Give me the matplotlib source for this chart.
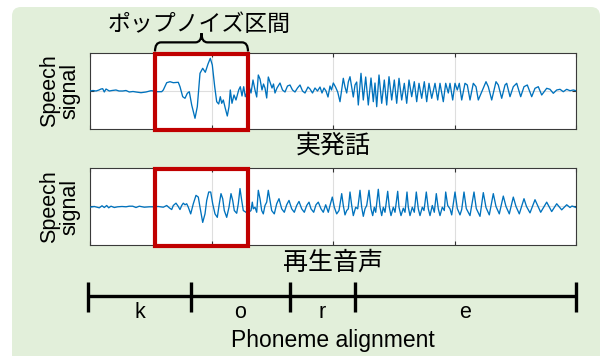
import matplotlib
matplotlib.use("Agg")
import matplotlib.pyplot as plt
import numpy as np
from matplotlib.patches import FancyBboxPatch, Rectangle, PathPatch
from matplotlib.path import Path
from matplotlib.transforms import IdentityTransform

plt.rcParams['font.family'] = ['Liberation Sans', 'Noto Sans CJK JP', 'DejaVu Sans']
JP = ['Noto Sans CJK JP', 'DejaVu Sans']

# ---- data -------------------------------------------------------------
duration_ms = 486

# (time [ms], amplitude) samples of the real utterance
real_speech = [
    (0, 0), (3, 0.5), (6, 0), (9, 1), (11, 2), (12.7, 2.3), (14.3, -1), (16, 2), (19.3, 0), (22, 0.5),
    (26, 1), (29, 0), (32.7, 0), (36, 0.5), (39.3, -1), (43, -0.5), (46, -1), (51, -1.7), (56, -1),
    (61, 0.3), (64, 0), (67.3, -0.7), (71.7, -0.7),
    (73.3, 1), (76.7, 8.3), (80, 9.3), (83.3, 8.3), (88.3, 8.7), (90, 4.3), (92.7, -5.7), (95, -7.3),
    (97.3, -2.3), (99.3, -0.7), (101.7, -14), (105, -27.3), (107.3, -15.7), (110, 17.7), (112.7, 22.7),
    (115.3, 18.7), (118, 27), (120.3, 32.7), (122.3, 26), (124.7, 4.3), (126.7, -10.7), (128.7, -13),
    (130.3, -5.7), (131.7, -12.3), (133.3, -9), (135.3, -17.3), (137.3, -25), (139, -15.7), (140.3, 1),
    (142, -12.3), (144, -4), (146, -9), (148.7, 1), (150.3, 4.3), (152, -5), (153.7, 4.3), (155.3, -5.7),
    (156.7, -2),
    (159, 5), (161, -2), (163, 11), (165, 1), (166.7, -6), (168.3, 16), (170, 12), (172, 1), (173.5, 7),
    (175, 3), (176.7, -7), (178.3, 14), (180, 9), (182, 3), (183.5, 7), (185, -2), (187, 3), (190, 8),
    (192.5, 1), (195, -1), (197.5, 5), (200, 6), (202.5, 1), (205, -1), (207.5, 3), (210, 6), (212.5, 0),
    (215, -2), (218, 4), (220, 2), (222.5, -2), (225, 3), (227.5, 0), (230, 4), (232, -2), (234, 3),
    (236, 0), (238, -6), (240, 5), (241.5, 1),
    (243.3, 8), (245.5, 4), (247.7, -1), (250, -10.7), (253.3, 12.7), (255, 4), (256.7, -2), (258.3, 9),
    (260, 14.3), (263.3, -6), (265, 6), (266.7, 9), (268.3, -14), (271, 17.7), (273.3, -9), (275.7, 14),
    (278.3, -14), (281, 13), (283.3, -10.7), (285, 8), (286.7, -15.7), (289, 16), (291.7, -12.3),
    (294.3, 11), (296.7, -14), (299, 14.3), (301.7, -9), (304.3, 11), (306.7, -12.3), (309, 12.7),
    (311.7, -9), (314.3, 7.7), (316.7, -12.3), (319, 11), (321.7, -5.7), (324.3, 9.3), (326.7, -10.7),
    (329, 7.7), (331.7, -7.3), (334.3, 9.3), (336.7, -10.7), (339, 7.7), (341.7, -7.3), (345, 7.7),
    (347.7, -9), (350, 7.7), (353.3, -10.7), (355.7, 7.7), (358.3, -2),
    (360, 7.7), (362.7, -9), (365, 7.7), (367.3, 1), (369.3, 7.7), (371.7, -9), (375, 7.7), (377.3, 6),
    (380, -9), (383.3, 7.7), (386, 4.3), (388.3, -9), (393, 2), (396, 9.3), (398.3, 4.3), (401.7, -9),
    (406, 9.3), (408.3, 6), (411.7, -7.3), (415, 6), (416.7, 7.7), (420, -5.7), (423.3, 4.3),
    (426.7, 7.7), (430.7, -5.7), (434, 4.3), (437.3, 6), (441.7, -5.7), (445, 2.7), (448.3, 4.3),
    (451.7, -4), (456.7, 2.7), (460, 1.7), (463.3, -2.3), (466.7, 1), (470, 1.7), (473.3, -0.7),
    (476.7, 1.7), (480, 0.3), (483.3, 1), (486, 0.3),
]

# (time [ms], amplitude) samples of the replayed utterance
replay_speech = [
    (0, -0.7), (4.3, 0), (9.3, -1.3), (12, 0.7), (14.3, -1), (16.7, 1), (18.7, -1.3), (21, 0.3),
    (24.3, -1), (27.7, -0.3), (32, 0), (36, -0.3), (39.3, 0.3), (42.7, 0.3), (46, -1), (49.3, 0.3),
    (54.3, -0.7), (59.3, -0.3), (62.7, -0.3),
    (68.3, 0), (73.3, -0.7), (76.7, 1), (79.3, -1.3), (81.7, -3), (83.3, 1), (86, 3.3), (88.3, 0),
    (90, -3), (91.7, 1), (93.3, 3.3), (95, 1.7), (96.7, 2.7), (98.3, -0.7), (100.7, -7.3), (103.3, 2.7),
    (106, 11), (108.3, 9.3), (110, -0.7), (112.7, -15.7), (115, -7.3), (116.7, 6), (118.7, 14.3),
    (120.7, 14.3), (122.7, 2.7), (125, -7.3), (127.3, -10.7), (129.3, 2.7), (131, 12.7), (132.7, 7.7),
    (134.3, -4), (136.7, -10.7), (139, -0.7), (141, 12.7), (142.7, 6), (144.3, -4), (146.7, -6.7),
    (148.3, 2.7), (150, 17.7), (151.7, 6), (153.3, -4), (156, -5.7), (157.3, -6.7),
    (161, -4), (162.3, 4.3), (163.3, -2.3), (165, -0.7), (166.7, -5.7), (168.3, 16), (170, 7.7),
    (171.7, -4), (173.3, -7.3), (175, 1), (176.7, 4.3), (178.3, 16), (180, 6), (181.7, -4), (184.3, -7.3),
    (186.7, 2.7), (189, 7.7), (191.7, -2.3), (194.3, -5.7), (196.7, 1.7), (199, 6), (201.7, -2.3),
    (204.3, -5.7), (206.7, 1), (209, 5), (211.7, -2.3), (214.3, -5.7), (216.7, 1), (219, 4.3),
    (221, -2.3), (223.7, -5.7), (226, 1.7), (228.3, 4.3), (231, -2.3), (233.3, -5.7), (235.7, 1.7),
    (238.3, -5.7), (240, 1), (242.3, 9.3), (244.3, -0.7), (246.7, -7.3), (249, -4), (251.7, 12.7),
    (253.3, 1), (255, -8.3), (256.7, -4), (258.3, -2.3), (260, 14.3), (261.7, 1), (263.3, -9),
    (265.7, -0.7), (267.7, -2.3), (270, 16), (271.7, -0.7), (273.3, -9.7), (275, -2.3), (276.7, 1),
    (279, 16), (281, -2.3), (282.7, -9), (284.3, -0.7), (285.7, -5.7), (288.3, 17), (290, -0.7),
    (291.7, -9), (293.3, -0.7), (295, -5.7), (297.7, 15), (299.3, -0.7), (301, -9), (303.3, -0.7),
    (305, -5.7), (307.7, 15), (309, -0.7), (311, -9), (313.3, -1.7), (315, -5.7), (317, 14.3),
    (318.3, -0.7), (320, -9), (322.3, -0.7), (324.3, -5.7), (326.3, 14.3), (328.3, -2.3), (330, -9),
    (332.3, -0.7), (334, -4), (336.3, 14.3), (338.3, -2.3), (340, -9), (342.3, 1), (344.3, -5.7),
    (346.3, 12.7), (348.3, -2.3), (350, -9), (352.3, -0.7), (354.3, -4), (355.7, 14.3), (357.7, 1),
    (360, -2.3),
    (361.7, -8.3), (365, 14.3), (367.3, -2), (370, -8.3), (371.7, -3), (374, 14.3), (376.3, -2),
    (380, -9), (384, 14.3), (386.3, -2), (390, -9.7), (393.3, 13.7), (396, -1), (399.3, -8.3),
    (403.3, 12.7), (406, 0), (409.3, -7.3), (413.3, 10.3), (416, 0), (419.3, -7.3), (423.3, 9.3),
    (426, 0), (429.3, -7.3), (434, 7.7), (436.5, 0), (440, -6.3), (445, 6.7), (450.7, -5.7),
    (456.7, 4.3), (461.7, -5), (466.7, 2.7), (471.7, -3.3), (476.7, 1.7), (480, -1), (482, 0.5),
    (485, -0.7), (486, -1),
]

pop_noise_interval = (65, 158)          # ms
phoneme_bounds = [-2, 101, 200, 265, 486]  # ms
phoneme_labels = ['k', 'o', 'r', 'e']

panel_titles = ['実発話', '再生音声']
brace_label = 'ポップノイズ区間'
ylabel_text = 'Speech\nsignal'
xlabel_text = 'Phoneme alignment'

# ---- styling ----------------------------------------------------------
W, H = 606, 356
LINE_BLUE = '#0072BD'
RED = '#C00000'
PANEL_BG = '#E2EFDA'

fig = plt.figure(figsize=(W / 100, H / 100), dpi=100)
fig.patch.set_facecolor('white')

bg = FancyBboxPatch((12, -30), 588, 356 - 7 + 30,
                    boxstyle='round,pad=0,rounding_size=9',
                    transform=IdentityTransform(), facecolor=PANEL_BG,
                    edgecolor='none', zorder=0)
fig.add_artist(bg)


def px_box(left, top, right, bottom):
    return [left / W, 1 - bottom / H, (right - left) / W, (bottom - top) / H]


def wave_axes(rect, samples, title, title_y):
    ax = fig.add_axes(rect)
    t, a = np.array(samples).T
    ax.plot(t, a, color=LINE_BLUE, lw=0.95, zorder=3)
    ax.set_xlim(0, duration_ms)
    ax.set_ylim(-38, 38)
    ax.set_xticks(np.linspace(0, duration_ms, 5))
    ax.set_yticks([0])
    ax.tick_params(direction='in', length=3, width=0.8, color='#333333',
                   top=True, right=True, labelbottom=False, labelleft=False)
    ax.grid(True, color='#DEDEDE', lw=0.8, zorder=1)
    for s in ax.spines.values():
        s.set_color('#3A3A3A')
        s.set_linewidth(0.8)
    ax.set_facecolor('white')
    # highlight the pop-noise interval
    x0, x1 = pop_noise_interval
    ax.add_patch(Rectangle((x0, -0.015), x1 - x0, 1.0, transform=ax.get_xaxis_transform(),
                           fill=False, ec=RED, lw=3.0, joinstyle='miter',
                           clip_on=False, zorder=6))
    fig.text(333 / W, 1 - title_y / H, title, ha='center', va='center',
             fontsize=18, family=JP)
    pos = ax.get_position()
    fig.text(60 / W, pos.y0 + pos.height / 2, ylabel_text, rotation=90,
             ha='center', va='center', fontsize=15.5, linespacing=0.95,
             multialignment='center')
    return ax


ax1 = wave_axes(px_box(90, 53, 576, 129), real_speech, panel_titles[0], 146)
ax2 = wave_axes(px_box(90, 168, 576, 245), replay_speech, panel_titles[1], 263)

# curly brace over the pop-noise interval
x0, x1 = pop_noise_interval
xc = (x0 + x1) / 2
r = 6
yb, ym, yt = 1.02, 1.14, 1.26
verts = [(x0, yb), (x0, ym), (x0 + r, ym), (xc - r, ym), (xc, ym), (xc, yt),
         (xc, ym), (xc + r, ym), (x1 - r, ym), (x1, ym), (x1, yb)]
codes = [Path.MOVETO, Path.CURVE3, Path.CURVE3, Path.LINETO, Path.CURVE3, Path.CURVE3,
         Path.CURVE3, Path.CURVE3, Path.LINETO, Path.CURVE3, Path.CURVE3]
ax1.add_patch(PathPatch(Path(verts, codes), transform=ax1.get_xaxis_transform(),
                        fill=False, ec='black', lw=1.6, clip_on=False, zorder=6))
ax1.text(xc - 2, 1.38, brace_label, transform=ax1.get_xaxis_transform(),
         ha='center', va='center', fontsize=16.5, family=JP)

# phoneme alignment bar
ax3 = fig.add_axes(px_box(90, 282, 576, 312))
ax3.set_xlim(0, duration_ms)
ax3.set_ylim(-1, 1)
ax3.axis('off')
ax3.plot([phoneme_bounds[0], phoneme_bounds[-1]], [0.1, 0.1], color='black', lw=2.4,
         solid_capstyle='butt', clip_on=False)
ax3.vlines(phoneme_bounds, -1, 1, color='black', lw=2.4, clip_on=False)
for lab, b0, b1 in zip(phoneme_labels, phoneme_bounds[:-1], phoneme_bounds[1:]):
    ax3.text((b0 + b1) / 2, -1.0, lab, ha='center', va='center', fontsize=15.5)
fig.text(333 / W, 1 - 341 / H, xlabel_text, ha='center', va='center', fontsize=16.5)

fig.savefig('out.png', dpi=100)
